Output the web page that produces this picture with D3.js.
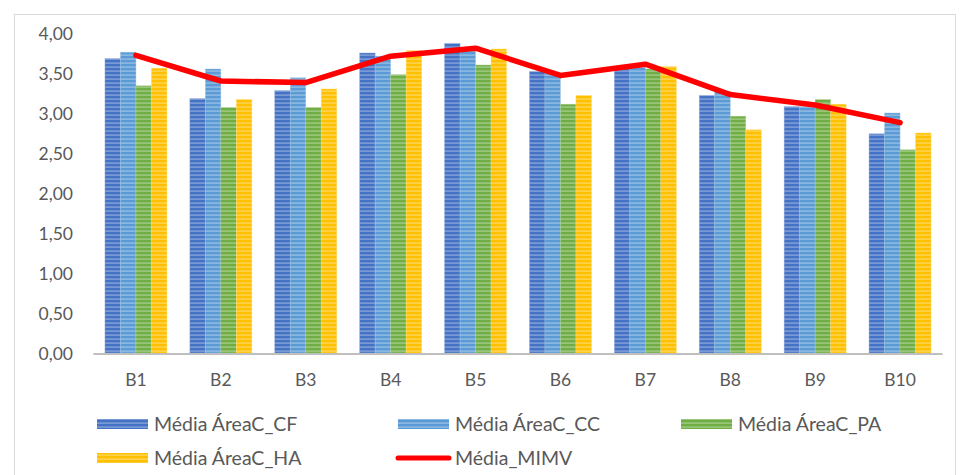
<!DOCTYPE html>
<html><head><meta charset="utf-8">
<script src="https://cdn.jsdelivr.net/npm/d3@7"></script>
<style>body{margin:0;background:#fff}svg{display:block}text{font-family:Lato,"Open Sans",sans-serif;fill:#595959}</style>
</head><body>
<svg id="c" width="965" height="475"></svg>
<script>
const categories = ["B1","B2","B3","B4","B5","B6","B7","B8","B9","B10"];
const seriesNames = ["Média ÁreaC_CF","Média ÁreaC_CC","Média ÁreaC_PA","Média ÁreaC_HA"];
const cf = [3.68,3.18,3.28,3.75,3.87,3.52,3.56,3.22,3.08,2.74];
const cc = [3.76,3.55,3.44,3.71,3.80,3.50,3.57,3.27,3.08,3.00];
const pa = [3.34,3.07,3.07,3.48,3.60,3.11,3.55,2.96,3.17,2.54];
const ha = [3.56,3.17,3.30,3.78,3.80,3.22,3.58,2.79,3.11,2.75];
const lineName = "Média_MIMV";
const mimv = [3.72,3.40,3.38,3.71,3.81,3.47,3.61,3.23,3.10,2.88];
const yTicks = [0,0.5,1,1.5,2,2.5,3,3.5,4];

const colors = ["#4472C4","#5B9BD5","#70AD47","#FFC000"];
const light = ["#8FAADC","#9DC3E6","#A9D18E","#FFD966"];
const svg = d3.select("#c");
const defs = svg.append("defs");
colors.forEach((c,i)=>{
  const p = defs.append("pattern").attr("id","p"+i).attr("patternUnits","userSpaceOnUse")
    .attr("width",8).attr("height",4);
  p.append("rect").attr("width",8).attr("height",4).attr("fill",c);
  p.append("rect").attr("y",2.5).attr("width",8).attr("height",1.2).attr("fill",light[i]);
});

// frame
svg.append("rect").attr("x",14.5).attr("y",14.5).attr("width",941).attr("height",470)
  .attr("fill","none").attr("stroke","#d9d9d9");

const x = d3.scaleBand().domain(categories).range([93.5,942.5]).paddingInner(0.27).paddingOuter(0.135);
const y = d3.scaleLinear().domain([0,4]).range([353,33]);
const xs = d3.scaleBand().domain(d3.range(4)).range([0,x.bandwidth()]);
const data = [cf,cc,pa,ha];

// y labels
svg.append("g").selectAll("text").data(yTicks).join("text")
  .attr("x",73).attr("y",d=>y(d)+1).attr("dy","0.35em").attr("text-anchor","end")
  .style("font-size","17.5px").text(d=>d3.format(".2f")(d).replace(".",","));

// bars
data.forEach((vals,i)=>{
  svg.append("g").selectAll("rect").data(vals).join("rect")
    .attr("x",(d,j)=>x(categories[j])+xs(i)).attr("width",xs.bandwidth())
    .attr("y",d=>y(d)).attr("height",d=>y(0)-y(d))
    .attr("fill",`url(#p${i})`).attr("stroke",light[i]).attr("stroke-width",0.6).attr("stroke-opacity",0.7);
});

// x axis baseline
svg.append("line").attr("x1",93.5).attr("x2",942.5).attr("y1",y(0)+1).attr("y2",y(0)+1)
  .attr("stroke","#bfbfbf").attr("stroke-width",2);
svg.append("g").selectAll("text").data(categories).join("text")
  .attr("x",d=>x(d)+x.bandwidth()/2).attr("y",380).attr("dy","0.35em").attr("text-anchor","middle")
  .style("font-size","17.5px").text(d=>d);

// line
const line = d3.line().x((d,j)=>x(categories[j])+x.bandwidth()/2).y(d=>y(d));
svg.append("path").attr("d",line(mimv)).attr("fill","none").attr("stroke","#FF0000")
  .attr("stroke-width",5.5).attr("stroke-linejoin","round").attr("stroke-linecap","round");

// legend
const leg = [
  {n:seriesNames[0],i:0,x:97,y:424},
  {n:seriesNames[1],i:1,x:398,y:424},
  {n:seriesNames[2],i:2,x:681,y:424},
  {n:seriesNames[3],i:3,x:97,y:458},
  {n:lineName,i:-1,x:398,y:458}
];
leg.forEach(l=>{
  if(l.i>=0){
    svg.append("rect").attr("x",l.x).attr("y",l.y-5).attr("width",51).attr("height",10)
      .attr("fill",`url(#p${l.i})`);
  } else {
    svg.append("line").attr("x1",l.x).attr("x2",l.x+51).attr("y1",l.y).attr("y2",l.y)
      .attr("stroke","#FF0000").attr("stroke-width",5).attr("stroke-linecap","round");
  }
  svg.append("text").attr("x",l.x+57).attr("y",l.y).attr("dy","0.35em")
    .style("font-size","19.5px").text(l.n);
});
</script>
</body></html>
